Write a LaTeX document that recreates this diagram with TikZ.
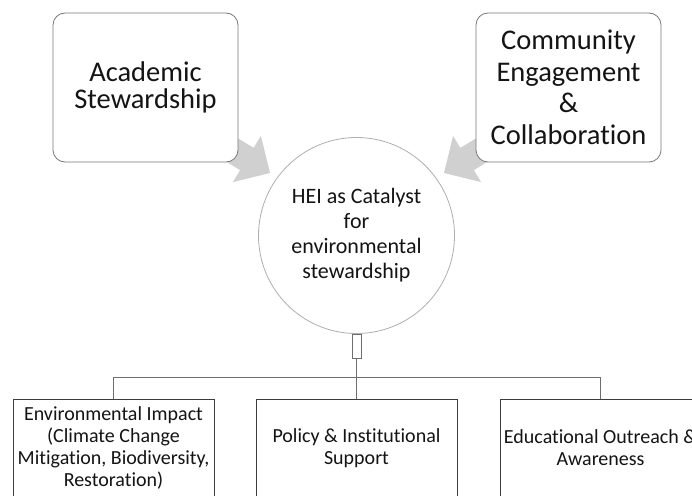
\documentclass[tikz,border=0pt]{standalone}
\usepackage{fontspec}
\setmainfont{Carlito}[RawFeature={-liga;-clig;-dlig}]
\definecolor{arrowgray}{RGB}{208,208,208}
\definecolor{boxline}{RGB}{120,120,120}
\definecolor{circline}{RGB}{175,175,175}
\definecolor{connline}{RGB}{110,110,110}
\definecolor{botline}{RGB}{60,60,60}
\definecolor{txt}{RGB}{20,20,20}
\tikzset{
  topbox/.style={draw=boxline, line width=0.8pt, fill=white, rounded corners=12pt,
    minimum width=185pt, minimum height=149pt, align=center, text=txt,
    font=\fontsize{28.5}{31.5}\selectfont, inner sep=0pt},
  hub/.style={circle, draw=circline, line width=0.8pt, fill=white, minimum size=196pt,
    align=center, text=txt, font=\fontsize{22}{25}\selectfont, inner sep=0pt},
  botbox/.style={draw=botline, line width=0.8pt, fill=white, minimum width=201pt,
    minimum height=98pt, align=center, text=txt, font=\fontsize{20}{22}\selectfont, inner sep=0pt},
  gapbox/.style={draw=connline, line width=0.8pt, fill=white, minimum width=9pt,
    minimum height=24pt, inner sep=0pt},
  conn/.style={draw=connline, line width=0.9pt},
  blockarrow/.style={fill=arrowgray, draw=none}
}
\begin{document}
\begin{tikzpicture}[x=1pt,y=-1pt]
\useasboundingbox (0,0) rectangle (692,495);
\clip (0,0) rectangle (692,495);
% block arrows (behind boxes)
\fill[blockarrow] (193.8,111.5) -- (253.7,147.9) -- (260.9,135.9) -- (270,173) -- (232.9,182.1) -- (240.1,170.1) -- (180.2,133.7) -- cycle;
\fill[blockarrow] (520.2,111.5) -- (460.3,147.9) -- (453.1,135.9) -- (444,173) -- (481.1,182.1) -- (473.9,170.1) -- (533.8,133.7) -- cycle;
% top boxes
\node[topbox, font=\fontsize{28.5}{27.5}\selectfont] (acad) at (145.5,87.5) {Academic\\Stewardship};
\node[topbox] (comm) at (568.5,87.5) {Community\\Engagement\\\&\\Collaboration};
% hub
\node[hub] (hei) at (356.5,235.5) {HEI as Catalyst\\for\\environmental\\stewardship};
% gap box under hub
\node[gapbox, anchor=north] (gap) at (hei.south) {};
% bottom boxes
\node[botbox] (b1) at (113.5,448) {Environmental Impact\\(Climate Change\\Mitigation, Biodiversity,\\Restoration)};
\node[botbox] (b2) at (356.5,448) {Policy \& Institutional\\Support};
\node[botbox] (b3) at (600.5,448) {Educational Outreach \&\\Awareness};
% connectors
\draw[conn] (gap.south) -- (b2.north);
\draw[conn] (b1.north) -- ++(0,-21) -| (b3.north);
\end{tikzpicture}
\end{document}
